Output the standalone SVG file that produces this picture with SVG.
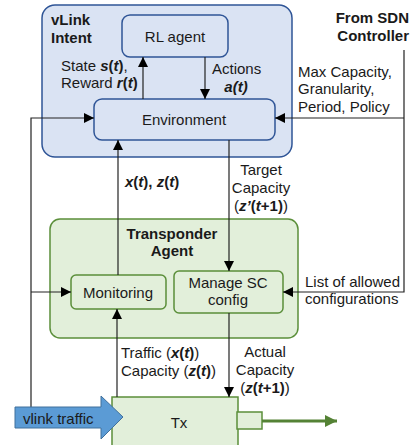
<svg xmlns="http://www.w3.org/2000/svg" width="412" height="445" viewBox="0 0 412 445">
<defs>
<style>
text{font-family:"Liberation Sans",Arial,sans-serif;font-size:15px;fill:#1a1a1a}
.b{font-weight:bold}
.bi{font-weight:bold;font-style:italic}
.m{text-anchor:middle}
.blue{fill:#dae3f3;stroke:#2f5597;stroke-width:1.5}
.green{fill:#e2efda;stroke:#5b8f3a;stroke-width:1.5}
.ln{fill:none;stroke:#222;stroke-width:1.2}
</style>
<marker id="ah" viewBox="0 0 10 10" refX="10" refY="5" markerWidth="10" markerHeight="10" markerUnits="userSpaceOnUse" orient="auto">
<path d="M0,0 L10,5 L0,10 Z" fill="#000"/>
</marker>
<marker id="gh" viewBox="0 0 10 10" refX="10" refY="5" markerWidth="5" markerHeight="4" orient="auto">
<path d="M0,0 L10,5 L0,10 Z" fill="#548235"/>
</marker>
</defs>

<g id="vlink-intent">
<rect class="blue" x="42" y="5" width="250" height="152" rx="13"/>
<text class="b" x="51" y="25">vLink</text>
<text class="b" x="51" y="43">Intent</text>
</g>
<g id="rl-agent">
<rect class="blue" x="122" y="15" width="106" height="42" rx="8"/>
<text class="m" x="175" y="42">RL agent</text>
</g>
<g id="environment">
<rect class="blue" x="94" y="99" width="181" height="41" rx="8"/>
<text class="m" x="184" y="125">Environment</text>
</g>
<g id="sdn-controller">
<text class="b" x="409" y="23" text-anchor="end">From SDN</text>
<text class="b" x="409" y="41" text-anchor="end">Controller</text>
</g>
<g id="transponder-agent">
<rect class="green" x="50" y="219" width="248" height="119" rx="10"/>
<text class="b m" x="172" y="239">Transponder</text>
<text class="b m" x="172" y="256">Agent</text>
</g>
<g id="monitoring">
<rect class="green" x="71" y="275" width="95" height="34" rx="5"/>
<text class="m" x="118" y="298">Monitoring</text>
</g>
<g id="manage-sc">
<rect class="green" x="174" y="271" width="109" height="42" rx="5"/>
<text class="m" x="228" y="288">Manage SC</text>
<text class="m" x="228" y="305">config</text>
</g>
<g id="tx">
<rect class="green" x="112" y="397" width="126" height="60"/>
<text class="m" x="179" y="428">Tx</text>
<rect class="green" x="237" y="412" width="25" height="17"/>
</g>

<g id="connectors">
<line class="ln" x1="143" y1="99" x2="143" y2="57" marker-end="url(#ah)"/>
<line class="ln" x1="205" y1="57" x2="205" y2="99" marker-end="url(#ah)"/>
<polyline class="ln" points="404,50 404,292 283,292" marker-end="url(#ah)"/>
<line class="ln" x1="404" y1="118" x2="275" y2="118" marker-end="url(#ah)"/>
<polyline class="ln" points="31,407 31,118 94,118" marker-end="url(#ah)"/>
<line class="ln" x1="31" y1="292" x2="71" y2="292" marker-end="url(#ah)"/>
<line class="ln" x1="118" y1="275" x2="118" y2="140" marker-end="url(#ah)"/>
<line class="ln" x1="229" y1="140" x2="229" y2="271" marker-end="url(#ah)"/>
<line class="ln" x1="117" y1="397" x2="117" y2="309" marker-end="url(#ah)"/>
<line class="ln" x1="229" y1="313" x2="229" y2="397" marker-end="url(#ah)"/>
<line x1="262" y1="421" x2="337" y2="421" stroke="#548235" stroke-width="3" marker-end="url(#gh)"/>
</g>

<g id="vlink-traffic">
<path d="M15,407 L101,407 L101,396 L123,417 L101,439 L101,428 L15,428 Z" fill="#5b9bd5" stroke="#41719c" stroke-width="1"/>
<text x="23" y="424">vlink traffic</text>
</g>

<g id="labels">
<text x="61" y="71">State <tspan class="bi">s</tspan><tspan class="b">(</tspan><tspan class="bi">t</tspan><tspan class="b">)</tspan>,</text>
<text x="61" y="88">Reward <tspan class="bi">r</tspan><tspan class="b">(</tspan><tspan class="bi">t</tspan><tspan class="b">)</tspan></text>
<text x="212" y="74">Actions</text>
<text class="bi m" x="236" y="92">a(t)</text>
<text x="298" y="77">Max Capacity,</text>
<text x="298" y="94">Granularity,</text>
<text x="298" y="112">Period, Policy</text>
<text x="125" y="187"><tspan class="bi">x</tspan><tspan class="b">(</tspan><tspan class="bi">t</tspan><tspan class="b">), </tspan><tspan class="bi">z</tspan><tspan class="b">(</tspan><tspan class="bi">t</tspan><tspan class="b">)</tspan></text>
<text class="m" x="261" y="175">Target</text>
<text class="m" x="261" y="193">Capacity</text>
<text class="m" x="261" y="211">(<tspan class="bi">z’</tspan><tspan class="b">(</tspan><tspan class="bi">t</tspan><tspan class="b">+1)</tspan>)</text>
<text x="305" y="287">List of allowed</text>
<text x="305" y="304">configurations</text>
<text x="121" y="358">Traffic (<tspan class="bi">x</tspan><tspan class="b">(</tspan><tspan class="bi">t</tspan><tspan class="b">)</tspan>)</text>
<text x="121" y="376">Capacity (<tspan class="bi">z</tspan><tspan class="b">(</tspan><tspan class="bi">t</tspan><tspan class="b">)</tspan>)</text>
<text class="m" x="265" y="357">Actual</text>
<text class="m" x="265" y="375">Capacity</text>
<text class="m" x="265" y="393">(<tspan class="bi">z</tspan><tspan class="b">(</tspan><tspan class="bi">t</tspan><tspan class="b">+1)</tspan>)</text>
</g>
</svg>
